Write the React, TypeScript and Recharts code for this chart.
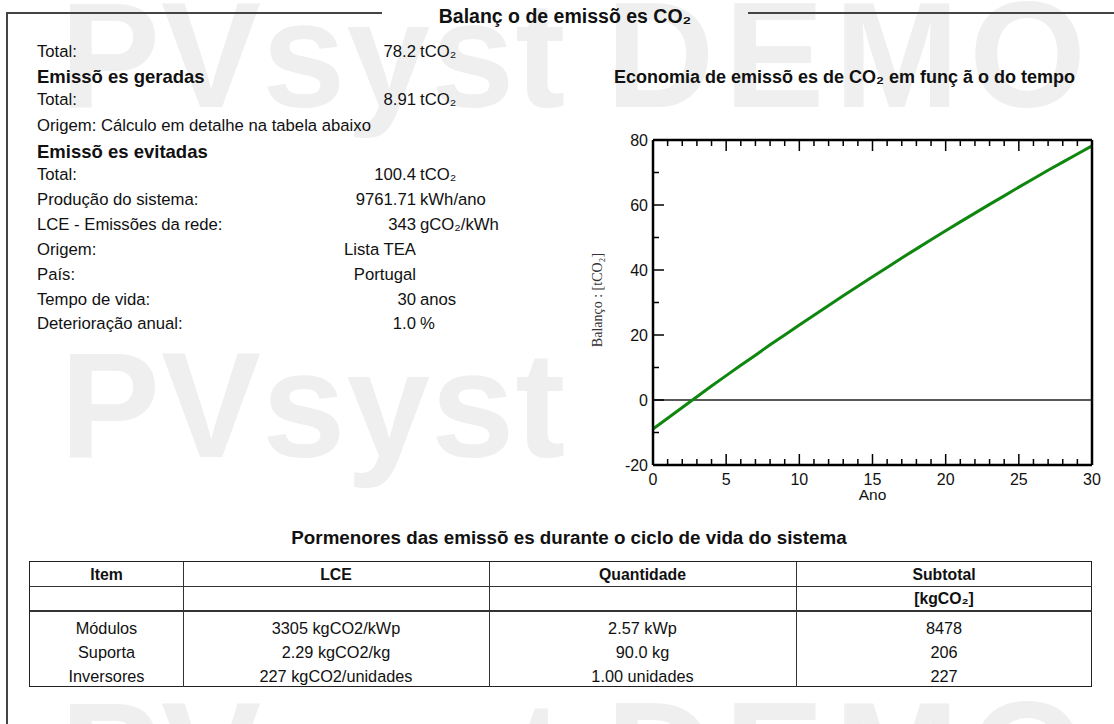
import React from "react";
import { LineChart, Line, XAxis, YAxis, ReferenceLine } from "recharts";

// balance of CO2 emissions over the system lifetime (tCO2)
const years = [
  0, 1, 2, 3, 4, 5, 6, 7, 8, 9, 10, 11, 12, 13, 14, 15, 16, 17, 18, 19, 20,
  21, 22, 23, 24, 25, 26, 27, 28, 29, 30,
];
const balance = [
  -8.9, -5.6, -2.3, 1.0, 4.3, 7.5, 10.7, 13.8, 17.0, 20.0, 23.1, 26.1, 29.1,
  32.1, 35.0, 37.9, 40.8, 43.7, 46.5, 49.3, 52.1, 54.8, 57.5, 60.2, 62.8, 65.5,
  68.1, 70.7, 73.2, 75.7, 78.2,
];
const xTicks = [
  0, 1, 2, 3, 4, 5, 6, 7, 8, 9, 10, 11, 12, 13, 14, 15, 16, 17, 18, 19, 20, 21,
  22, 23, 24, 25, 26, 27, 28, 29, 30,
];
const yTicks = [-20, -10, 0, 10, 20, 30, 40, 50, 60, 70, 80];

// summary block on the left
const rowLabels = [
  "Total:",
  "Emissõ es geradas",
  "Total:",
  "Origem: Cálculo em detalhe na tabela abaixo",
  "Emissõ es evitadas",
  "Total:",
  "Produção do sistema:",
  "LCE - Emissões da rede:",
  "Origem:",
  "País:",
  "Tempo de vida:",
  "Deterioração anual:",
];
const rowValues = ["78.2", "", "8.91", "", "", "100.4", "9761.71", "343", "Lista TEA", "Portugal", "30", "1.0"];
const rowUnits = ["tCO₂", "", "tCO₂", "", "", "tCO₂", "kWh/ano", "gCO₂/kWh", "", "", "anos", "%"];
const rowHeadings = [false, true, false, false, true, false, false, false, false, false, false, false];

// life cycle table
const tableHeader = ["Item", "LCE", "Quantidade", "Subtotal"];
const items = ["Módulos", "Suporta", "Inversores"];
const lceValues = ["3305 kgCO2/kWp", "2.29 kgCO2/kg", "227 kgCO2/unidades"];
const quantities = ["2.57 kWp", "90.0 kg", "1.00 unidades"];
const subtotals = ["8478", "206", "227"];

const data = years.map((y, i) => ({ year: y, balance: balance[i] }));

const FONT = "'Liberation Sans', Arial, sans-serif";
const rowY = [52, 77, 100, 126, 152, 175, 200, 225, 250, 275, 300, 324];
const colEdges = [30, 183, 489, 796, 1092];
const dataRowY = [628, 652, 676];

const BottomTick = (props: any) => {
  const { x, y, payload } = props;
  const major = payload.value % 5 === 0;
  return (
    <g>
      <line x1={x} x2={x} y1={y} y2={y - (major ? 11 : 6)} stroke="#000" strokeWidth={1.5} />
      {major && (
        <text x={x} y={y + 20} textAnchor="middle" fontSize={16} fontFamily={FONT} fill="#111">
          {payload.value}
        </text>
      )}
    </g>
  );
};

const TopTick = (props: any) => {
  const { x, y, payload } = props;
  const major = payload.value % 5 === 0;
  return <line x1={x} x2={x} y1={y} y2={y + (major ? 11 : 6)} stroke="#000" strokeWidth={1.5} />;
};

const LeftTick = (props: any) => {
  const { x, y, payload } = props;
  const major = payload.value % 20 === 0;
  return (
    <g>
      <line x1={x} x2={x + (major ? 11 : 6)} y1={y} y2={y} stroke="#000" strokeWidth={1.5} />
      {major && (
        <text x={x - 5} y={y + 6} textAnchor="end" fontSize={16} fontFamily={FONT} fill="#111">
          {payload.value}
        </text>
      )}
    </g>
  );
};

const RightTick = (props: any) => {
  const { x, y, payload } = props;
  const major = payload.value % 20 === 0;
  return <line x1={x} x2={x - (major ? 11 : 6)} y1={y} y2={y} stroke="#000" strokeWidth={1.5} />;
};

const abs = (extra: React.CSSProperties): React.CSSProperties => ({
  position: "absolute",
  whiteSpace: "nowrap",
  ...extra,
});

const Watermark = () => {
  const wm: React.CSSProperties = {
    fontFamily: FONT,
    fontWeight: "bold",
    fontSize: 150,
    lineHeight: "150px",
    color: "#efefef",
  };
  return (
    <>
      <div style={abs({ ...wm, left: 60, top: -20, letterSpacing: 1 })}>PVsyst</div>
      <div style={abs({ ...wm, left: 606, top: -20, letterSpacing: 10 })}>DEMO</div>
      <div style={abs({ ...wm, left: 60, top: 330, letterSpacing: 1 })}>PVsyst</div>
      <div style={abs({ ...wm, left: 60, top: 680, letterSpacing: 1 })}>
        PV<span style={{ color: "transparent" }}>sys</span>t
      </div>
      <div style={abs({ ...wm, left: 606, top: 680, letterSpacing: 10 })}>DEMO</div>
    </>
  );
};

const App = () => {
  return (
    <div
      style={{
        position: "absolute",
        left: 0,
        top: 0,
        width: 1114,
        height: 724,
        background: "#fff",
        overflow: "hidden",
        fontFamily: FONT,
        color: "#111",
      }}
    >
      <Watermark />

      {/* frame */}
      <div style={abs({ left: 6, top: 12, width: 1.5, height: 720, background: "#444" })} />
      <div style={abs({ left: 6, top: 12, width: 376, height: 1.5, background: "#444" })} />
      <div style={abs({ left: 748, top: 12, width: 366, height: 1.5, background: "#444" })} />
      <div style={abs({ left: 383, width: 364, top: 4, textAlign: "center", fontWeight: "bold", fontSize: 19.5, lineHeight: "24px" })}>
        Balanç o de emissõ es CO₂
      </div>

      {/* summary */}
      {rowLabels.map((label, i) => (
        <React.Fragment key={i}>
          <div
            style={abs({
              left: 37,
              top: rowY[i] - 11,
              lineHeight: "22px",
              fontSize: rowHeadings[i] ? 18.5 : 16.7,
              fontWeight: rowHeadings[i] ? "bold" : "normal",
            })}
          >
            {label}
          </div>
          {rowValues[i] && (
            <div style={abs({ right: 1114 - 416, top: rowY[i] - 11, lineHeight: "22px", fontSize: 16.7, textAlign: "right" })}>
              {rowValues[i]}
            </div>
          )}
          {rowUnits[i] && (
            <div style={abs({ left: 420, top: rowY[i] - 11, lineHeight: "22px", fontSize: 16.7 })}>{rowUnits[i]}</div>
          )}
        </React.Fragment>
      ))}

      {/* chart */}
      <div style={abs({ left: 575, width: 539, top: 65, textAlign: "center", fontWeight: "bold", fontSize: 18, lineHeight: "24px" })}>
        Economia de emissõ es de CO₂ em funç ã o do tempo
      </div>
      <div style={abs({ left: 575, top: 120, width: 539, height: 400 })}>
        <LineChart
          width={539}
          height={400}
          data={data}
          margin={{ top: 19, right: 21, left: 0, bottom: 10 }}
          style={{ background: "#fff" }}
        >
          <XAxis
            dataKey="year"
            type="number"
            domain={[0, 30]}
            ticks={xTicks}
            interval={0}
            height={45}
            tickSize={0}
            tickMargin={0}
            tickLine={false}
            tick={<BottomTick />}
            axisLine={{ stroke: "#000", strokeWidth: 2.5 }}
            label={{ value: "Ano", position: "insideBottom", offset: 10, fontSize: 15.5, fontFamily: FONT, fill: "#111" }}
          />
          <XAxis
            xAxisId="top"
            orientation="top"
            dataKey="year"
            type="number"
            domain={[0, 30]}
            ticks={xTicks}
            interval={0}
            height={1}
            tickSize={0}
            tickMargin={0}
            tickLine={false}
            tick={<TopTick />}
            axisLine={{ stroke: "#000", strokeWidth: 2.5 }}
          />
          <YAxis
            type="number"
            domain={[-20, 80]}
            ticks={yTicks}
            interval={0}
            width={78}
            tickSize={0}
            tickMargin={0}
            tickLine={false}
            tick={<LeftTick />}
            axisLine={{ stroke: "#000", strokeWidth: 2.5 }}
          />
          <YAxis
            yAxisId="right"
            orientation="right"
            type="number"
            domain={[-20, 80]}
            ticks={yTicks}
            interval={0}
            width={1}
            tickSize={0}
            tickMargin={0}
            tickLine={false}
            tick={<RightTick />}
            axisLine={{ stroke: "#000", strokeWidth: 2.5 }}
          />
          <ReferenceLine y={0} stroke="#222" strokeWidth={1.5} />
          <Line
            dataKey="balance"
            type="linear"
            stroke="#0f870f"
            strokeWidth={3}
            dot={false}
            isAnimationActive={false}
          />
        </LineChart>
      </div>
      <div
        style={abs({
          left: 598,
          top: 300,
          transform: "translate(-50%, -50%) rotate(-90deg)",
          fontFamily: "'Liberation Serif', 'Times New Roman', serif",
          fontSize: 14,
          color: "#333",
        })}
      >
        Balanço : [tCO₂]
      </div>

      {/* table */}
      <div style={abs({ left: 38, width: 1062, top: 526, textAlign: "center", fontWeight: "bold", fontSize: 18.8, lineHeight: "24px" })}>
        Pormenores das emissõ es durante o ciclo de vida do sistema
      </div>
      <div style={abs({ left: 29, top: 561, width: 1061, height: 124, border: "1.5px solid #222", background: "#fff" })} />
      {colEdges.slice(1, 4).map((x) => (
        <div key={x} style={abs({ left: x, top: 562, width: 1, height: 125, background: "#333" })} />
      ))}
      <div style={abs({ left: 30, top: 586, width: 1062, height: 1, background: "#333" })} />
      <div style={abs({ left: 30, top: 610, width: 1062, height: 1.5, background: "#333" })} />
      {tableHeader.map((h, i) => (
        <div
          key={h}
          style={abs({ left: colEdges[i], width: colEdges[i + 1] - colEdges[i], top: 564, textAlign: "center", fontWeight: "bold", fontSize: 15.8, lineHeight: "22px" })}
        >
          {h}
        </div>
      ))}
      <div style={abs({ left: colEdges[3], width: colEdges[4] - colEdges[3], top: 588, textAlign: "center", fontWeight: "bold", fontSize: 15.8, lineHeight: "22px" })}>
        [kgCO₂]
      </div>
      {items.map((item, r) => {
        const cells = [item, lceValues[r], quantities[r], subtotals[r]];
        return cells.map((c, i) => (
          <div
            key={`${r}-${i}`}
            style={abs({ left: colEdges[i], width: colEdges[i + 1] - colEdges[i], top: dataRowY[r] - 11, textAlign: "center", fontSize: 16.3, lineHeight: "22px" })}
          >
            {c}
          </div>
        ));
      })}
    </div>
  );
};

export default App;
